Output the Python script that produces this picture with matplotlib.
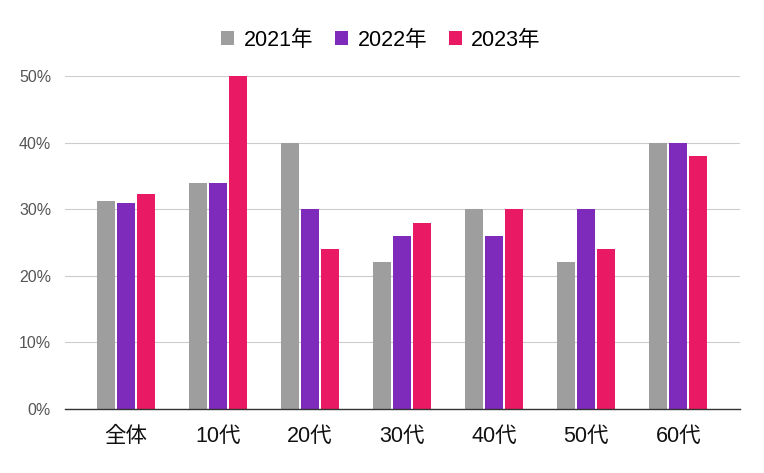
import matplotlib
matplotlib.use("Agg")
import matplotlib.pyplot as plt
import numpy as np
from matplotlib.ticker import FuncFormatter

categories = ["全体", "10代", "20代", "30代", "40代", "50代", "60代"]
series_names = ["2021年", "2022年", "2023年"]
v2021 = [31.2, 34, 40, 22, 30, 22, 40]
v2022 = [30.9, 34, 30, 26, 26, 30, 40]
v2023 = [32.3, 50, 24, 28, 30, 24, 38]
colors = ["#9E9E9E", "#7E2ABA", "#E91A63"]

fams = ['Liberation Sans', 'Noto Sans CJK JP', 'DejaVu Sans']
plt.rcParams['font.family'] = fams

fig = plt.figure(figsize=(7.64, 4.73), dpi=100)
ax = fig.add_axes([65/764, (473-409)/473, (740-65)/764, (409-76)/473])

x = np.arange(len(categories))
w = 0.196
off = 0.217
for i, (vals, name, c) in enumerate(zip([v2021, v2022, v2023], series_names, colors)):
    ax.bar(x + (i - 1) * off, vals, width=w, color=c, label=name, zorder=3)

ax.set_xlim(-0.66, 6.67)
ax.set_ylim(0, 50)
ax.set_yticks([0, 10, 20, 30, 40, 50])
ax.yaxis.set_major_formatter(FuncFormatter(lambda v, p: f"{int(v)}%"))
ax.grid(axis='y', color='#CCCCCC', linewidth=0.8, zorder=0)
for s in ['left', 'right', 'top']:
    ax.spines[s].set_visible(False)
ax.spines['bottom'].set_color('#333333')
ax.spines['bottom'].set_linewidth(1)
ax.spines['bottom'].set_zorder(4)
ax.set_xticks(x)
ax.set_xticklabels(categories, fontsize=15.5, family=fams)
ax.tick_params(axis='x', length=0, pad=12, colors='#111111')
ax.tick_params(axis='y', length=0, pad=10, labelsize=11.5, colors='#555555')

leg = fig.legend(loc='center', bbox_to_anchor=(381/764, 1 - 40/473), ncol=3, frameon=False,
                 prop={'family': fams, 'size': 15.5},
                 handlelength=0.6, handleheight=0.6, handletextpad=0.45, columnspacing=1.0)

fig.savefig("out.png", dpi=100)
